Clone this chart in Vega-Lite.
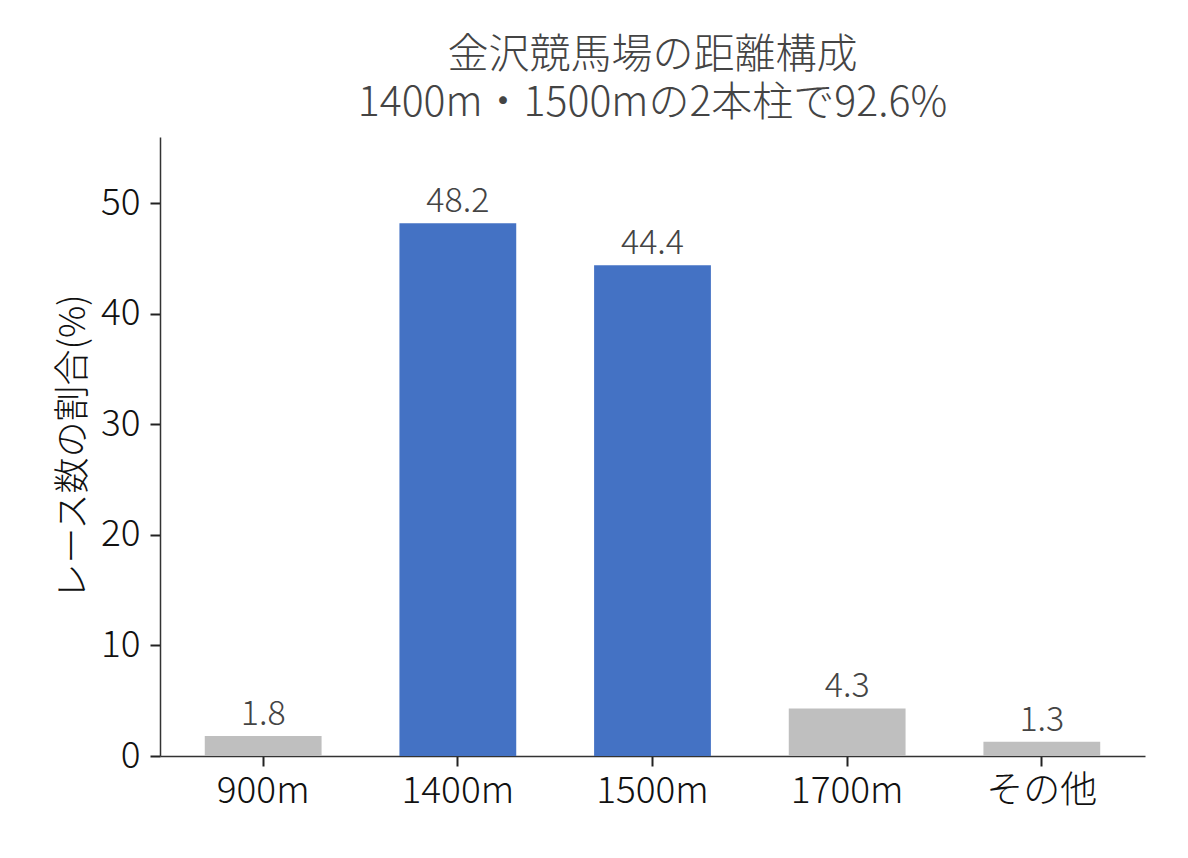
{
  "$schema": "https://vega.github.io/schema/vega-lite/v6.json",
  "width": 985,
  "height": 619,
  "autosize": "none",
  "padding": {"left": 160, "top": 137, "right": 43, "bottom": 102},
  "background": "white",
  "config": {
    "font": "Noto Sans CJK JP",
    "view": {"stroke": null}
  },
  "title": {
    "text": ["金沢競馬場の距離構成", "1400m・1500mの2本柱で92.6%"],
    "fontSize": 41,
    "fontWeight": 300,
    "color": "#444444",
    "lineHeight": 48,
    "offset": 12,
    "anchor": "middle"
  },
  "data": {
    "values": [
      {"distance": "900m", "share": 1.8, "main": "no"},
      {"distance": "1400m", "share": 48.2, "main": "yes"},
      {"distance": "1500m", "share": 44.4, "main": "yes"},
      {"distance": "1700m", "share": 4.3, "main": "no"},
      {"distance": "その他", "share": 1.3, "main": "no"}
    ]
  },
  "encoding": {
    "x": {
      "field": "distance",
      "type": "nominal",
      "sort": null,
      "scale": {"paddingInner": 0.4, "paddingOuter": 0.23},
      "axis": {
        "title": null,
        "labelAngle": 0,
        "labelFontSize": 37,
        "labelFontWeight": 300,
        "labelColor": "#111111",
        "labelPadding": 7,
        "domainColor": "#333333",
        "domainWidth": 1.5,
        "tickColor": "#222222",
        "tickWidth": 2,
        "tickSize": 10
      }
    },
    "y": {
      "field": "share",
      "type": "quantitative",
      "scale": {"domain": [0, 56], "nice": false},
      "axis": {
        "title": "レース数の割合(%)",
        "titleFontSize": 36,
        "titleFontWeight": 300,
        "titleColor": "#111111",
        "titlePadding": 8,
        "values": [0, 10, 20, 30, 40, 50],
        "grid": false,
        "labelFontSize": 37,
        "labelFontWeight": 300,
        "labelColor": "#111111",
        "labelPadding": 10,
        "domainColor": "#333333",
        "domainWidth": 1.5,
        "tickColor": "#222222",
        "tickWidth": 2,
        "tickSize": 10
      }
    }
  },
  "layer": [
    {
      "mark": {"type": "bar"},
      "encoding": {
        "color": {
          "field": "main",
          "type": "nominal",
          "scale": {"domain": ["yes", "no"], "range": ["#4472c4", "#bfbfbf"]},
          "legend": null
        }
      }
    },
    {
      "mark": {
        "type": "text",
        "baseline": "bottom",
        "dy": -4,
        "fontSize": 34,
        "fontWeight": 300,
        "color": "#444444"
      },
      "encoding": {
        "text": {"field": "share", "type": "quantitative", "format": ".1f"}
      }
    }
  ]
}
